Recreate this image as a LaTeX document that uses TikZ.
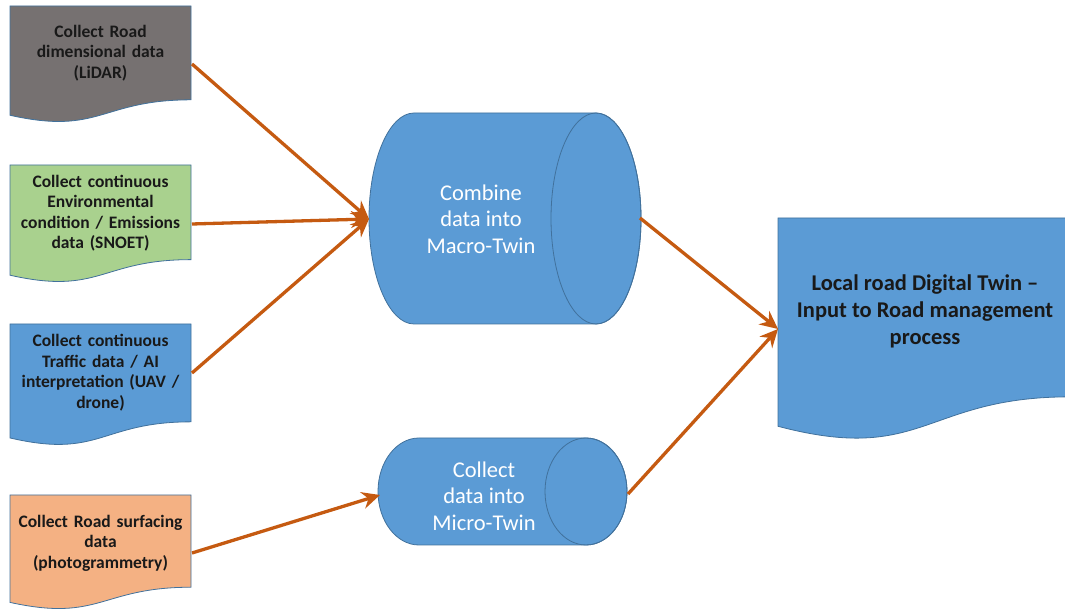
\documentclass[tikz,border=0pt]{standalone}
\usepackage{fontspec}
\setmainfont{Carlito}
\usetikzlibrary{arrows.meta}
\definecolor{grayf}{RGB}{118,113,113}
\definecolor{greenf}{RGB}{169,209,142}
\definecolor{bluef}{RGB}{91,155,213}
\definecolor{orangef}{RGB}{244,177,131}
\definecolor{edgec}{RGB}{65,113,156}
\definecolor{arrowc}{RGB}{197,90,17}
\tikzset{
  shapeline/.style={draw=edgec, line width=0.8pt},
  lbl/.style={font=\bfseries\fontsize{17.5}{20.5}\selectfont, text width=185pt, align=center, inner sep=0pt, text=black!90},
  cyltxt/.style={font=\fontsize{22.5}{26.5}\selectfont, text=white, align=center, inner sep=0pt},
  bigtxt/.style={font=\bfseries\fontsize{22.5}{27}\selectfont, align=center, inner sep=0pt, text=black!90},
  conn/.style={draw=arrowc, line width=3.3pt, -{Stealth[length=18pt, width=17pt, inset=6pt]}},
}
\newcommand\docpath[5]{%
  \filldraw[shapeline, fill=#1] (#2,#3) -- (#2+#4,#3) -- (#2+#4,#3-0.802*#5)
    .. controls (#2+0.5*#4,#3-0.802*#5) and (#2+0.5*#4,#3-1.107*#5) .. (#2,#3-0.934*#5) -- cycle;}
\newcommand\cylpath[5]{%
  \filldraw[shapeline, fill=bluef] (#1,#3+#5) -- (#2,#3+#5)
    arc[start angle=90, end angle=-90, x radius=#4, y radius=#5] -- (#1,#3-#5)
    arc[start angle=270, end angle=90, x radius=#4, y radius=#5] -- cycle;
  \draw[shapeline] (#2,#3) ellipse[x radius=#4, y radius=#5];}
\begin{document}
\begin{tikzpicture}[x=1pt, y=1pt]
\useasboundingbox (0,0) rectangle (1065,610);
% left documents
\docpath{grayf}{10}{604}{181}{117}
\docpath{greenf}{10}{445}{181}{118}
\docpath{bluef}{10}{286}{181}{122}
\docpath{orangef}{10}{115}{181}{115}
% big document
\docpath{bluef}{778}{392}{292}{223}
% cylinders
\cylpath{414}{596}{391.5}{45}{105.5}
\cylpath{419}{586}{118.5}{41}{53.5}
% texts
\node[lbl] (d1) at (100.5,557) {Collect Road\\dimensional data\\(LiDAR)};
\node[lbl] (d2) at (100.5,397) {Collect continuous\\Environmental\\condition / Emissions\\data (SNOET)};
\node[lbl] (d3) at (100.5,237.5) {Collect continuous\\Traffic data / AI\\interpretation (UAV /\\drone)};
\node[lbl] (d4) at (100.5,67) {Collect Road surfacing\\data\\(photogrammetry)};
\node[cyltxt] (c1) at (481,391) {Combine\\data into\\Macro-Twin};
\node[cyltxt] (c2) at (484,114) {Collect\\data into\\Micro-Twin};
\node[bigtxt] (bd) at (925,299) {Local road Digital Twin --\\Input to Road management\\process};
% connector ends
\coordinate (d1out) at (192,546);
\coordinate (d2out) at (192,386);
\coordinate (d3out) at (192,237);
\coordinate (d4out) at (192,57);
\coordinate (c1in) at (369,391);
\coordinate (c2in) at (380,115);
\coordinate (c1out) at (640,392);
\coordinate (c2out) at (628,116);
\coordinate (bdin) at (778,281);
% connectors
\draw[conn] (d1out) -- (c1in);
\draw[conn] (d2out) -- (c1in);
\draw[conn] (d3out) -- (c1in);
\draw[conn] (d4out) -- (c2in);
\draw[conn] (c1out) -- (bdin);
\draw[conn] (c2out) -- (bdin);
\end{tikzpicture}
\end{document}
